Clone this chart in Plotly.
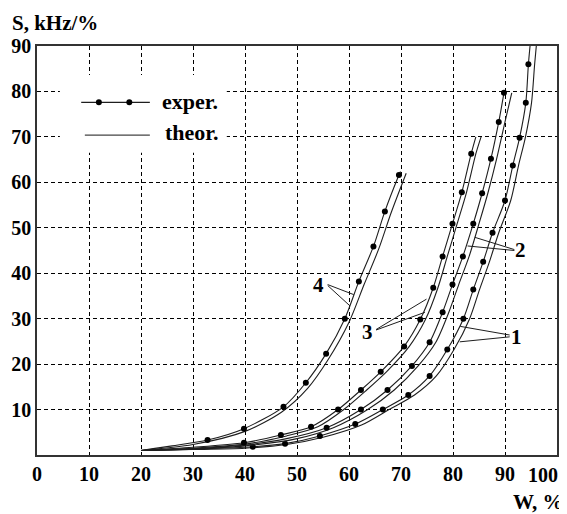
import plotly.graph_objects as go

# ---------------- data ----------------
# curve 4
G4_DOT_W = [32.8, 39.8, 47.4, 51.7, 55.6, 59.2, 61.9, 64.7, 66.9, 69.6]
G4_DOT_S = [3.3, 5.8, 10.6, 15.9, 22.3, 30.0, 38.2, 45.9, 53.6, 61.6]
G4_EXP_W = [20.0, 26.0, 32.8, 39.8, 47.4, 51.7, 55.6, 59.2, 61.9, 64.7, 66.9, 69.6, 69.9]
G4_EXP_S = [1.0, 2.0, 3.3, 5.8, 10.6, 15.9, 22.3, 30.0, 38.2, 45.9, 53.6, 61.6, 62.4]
G4_TH_W = [20.0, 30.0, 40.0, 47.0, 52.0, 56.0, 60.0, 62.9, 65.7, 68.1, 71.0]
G4_TH_S = [1.0, 2.3, 5.2, 9.4, 14.6, 21.0, 29.2, 37.5, 45.3, 53.3, 62.0]

# curve 3
G3_DOT_W = [39.8, 46.9, 52.7, 57.9, 62.3, 66.1, 70.6, 73.7, 76.2, 78.0, 79.9, 81.7, 83.5]
G3_DOT_S = [2.7, 4.4, 6.2, 10.0, 14.3, 18.3, 23.9, 29.8, 36.8, 43.7, 50.9, 57.8, 66.3]
G3_EXP_W = [20.0, 30.0, 39.8, 46.9, 52.7, 57.9, 62.3, 66.1, 70.6, 73.7, 76.2, 78.0, 79.9, 81.7, 83.5, 84.4]
G3_EXP_S = [1.0, 1.7, 2.7, 4.4, 6.2, 10.0, 14.3, 18.3, 23.9, 29.8, 36.8, 43.7, 50.9, 57.8, 66.3, 70.0]
G3_TH_W = [20.0, 30.0, 40.0, 48.0, 54.0, 59.0, 63.4, 67.2, 71.6, 74.7, 77.1, 78.9, 80.8, 82.6, 84.4, 85.4]
G3_TH_S = [1.0, 1.5, 2.4, 4.2, 6.2, 10.0, 14.3, 18.3, 23.9, 29.8, 36.8, 43.7, 50.9, 57.8, 66.3, 70.0]

# curve 2
G2_DOT_W = [55.7, 62.3, 67.4, 72.1, 75.5, 78.0, 79.9, 81.9, 83.9, 85.6, 87.3, 88.8, 89.8]
G2_DOT_S = [6.0, 10.0, 14.3, 19.6, 24.8, 31.4, 37.5, 43.7, 50.9, 57.6, 65.2, 73.3, 79.7]
G2_EXP_W = [20.0, 30.0, 40.0, 48.0, 55.7, 62.3, 67.4, 72.1, 75.5, 78.0, 79.9, 81.9, 83.9, 85.6, 87.3, 88.8, 89.8]
G2_EXP_S = [1.0, 1.4, 2.2, 3.6, 6.0, 10.0, 14.3, 19.6, 24.8, 31.4, 37.5, 43.7, 50.9, 57.6, 65.2, 73.3, 79.7]
G2_TH_W = [20.0, 30.0, 40.0, 50.0, 57.0, 63.6, 68.7, 73.3, 76.7, 79.2, 81.1, 83.1, 85.0, 86.7, 88.4, 90.0, 91.3]
G2_TH_S = [1.0, 1.3, 2.0, 3.6, 6.0, 10.0, 14.3, 19.6, 24.8, 31.4, 37.5, 43.7, 50.9, 57.6, 65.2, 73.3, 79.7]

# curve 1
G1_DOT_W = [41.5, 47.7, 54.4, 61.2, 66.5, 71.4, 75.5, 78.9, 82.0, 83.9, 85.8, 87.6, 90.0, 91.5, 92.8, 94.0, 94.5]
G1_DOT_S = [1.8, 2.5, 4.2, 6.8, 10.0, 13.2, 17.4, 23.2, 30.0, 36.4, 42.5, 48.9, 56.0, 63.7, 69.8, 77.5, 86.0]
G1_EXP_W = [20.0, 30.0, 41.5, 47.7, 54.4, 61.2, 66.5, 71.4, 75.5, 78.9, 82.0, 83.9, 85.8, 87.6, 90.0, 91.5, 92.8, 94.0, 94.5, 94.9]
G1_EXP_S = [1.0, 1.3, 1.8, 2.5, 4.2, 6.8, 10.0, 13.2, 17.4, 23.2, 30.0, 36.4, 42.5, 48.9, 56.0, 63.7, 69.8, 77.5, 86.0, 91.0]
G1_TH_W = [20.0, 30.0, 40.0, 48.0, 55.0, 62.4, 67.7, 72.6, 76.8, 80.2, 83.2, 85.1, 87.0, 88.8, 91.1, 92.6, 93.9, 95.1, 95.7, 96.1]
G1_TH_S = [1.0, 1.2, 1.5, 2.3, 3.9, 6.6, 10.0, 13.2, 17.4, 23.2, 30.0, 36.4, 42.5, 48.9, 56.0, 63.7, 69.8, 77.5, 86.0, 91.0]

X_TICKS = [0, 10, 20, 30, 40, 50, 60, 70, 80, 90]
Y_TICKS = [10, 20, 30, 40, 50, 60, 70, 80, 90]

CURVE_LABELS = ["1", "2", "3", "4"]

# ---------------- styling ----------------
FONT = "Liberation Serif"
LINE_C = "#1e1e1e"
LW = 1.1

fig = go.Figure()

groups = [
    (G1_EXP_W, G1_EXP_S, G1_TH_W, G1_TH_S, G1_DOT_W, G1_DOT_S),
    (G2_EXP_W, G2_EXP_S, G2_TH_W, G2_TH_S, G2_DOT_W, G2_DOT_S),
    (G3_EXP_W, G3_EXP_S, G3_TH_W, G3_TH_S, G3_DOT_W, G3_DOT_S),
    (G4_EXP_W, G4_EXP_S, G4_TH_W, G4_TH_S, G4_DOT_W, G4_DOT_S),
]
for ew, es, tw, ts, dw, ds in groups:
    fig.add_trace(go.Scatter(x=tw, y=ts, mode="lines",
                             line=dict(color=LINE_C, width=LW, shape="spline", smoothing=0.8),
                             showlegend=False, hoverinfo="skip"))
    fig.add_trace(go.Scatter(x=ew, y=es, mode="lines",
                             line=dict(color=LINE_C, width=LW, shape="spline", smoothing=0.8),
                             showlegend=False, hoverinfo="skip"))
    fig.add_trace(go.Scatter(x=dw, y=ds, mode="markers",
                             marker=dict(color="black", size=6),
                             showlegend=False, hoverinfo="skip"))

shapes = []
annotations = []

# legend (white box hiding the grid, sample lines, dots)
shapes.append(dict(type="rect", xref="x", yref="y", x0=4.4, x1=36.5, y0=66.5, y1=83.6,
                   fillcolor="white", line=dict(width=0), layer="between"))
shapes.append(dict(type="line", xref="x", yref="y", x0=8.5, x1=21.7, y0=77.6, y1=77.6,
                   line=dict(color=LINE_C, width=1.3), layer="above"))
shapes.append(dict(type="line", xref="x", yref="y", x0=9.2, x1=21.7, y0=70.4, y1=70.4,
                   line=dict(color="#444", width=1.3), layer="above"))
for cx in (11.9, 17.75):
    shapes.append(dict(type="circle", xref="x", yref="y", xsizemode="pixel", ysizemode="pixel",
                       xanchor=cx, yanchor=77.6, x0=-3, x1=3, y0=-3, y1=3,
                       fillcolor="black", line=dict(width=0), layer="above"))
annotations.append(dict(text="<b>exper.</b>", x=23.6, y=77.8, xref="x", yref="y",
                        xanchor="left", yanchor="middle", showarrow=False,
                        font=dict(family=FONT, size=22, color="black")))
annotations.append(dict(text="<b>theor.</b>", x=24.2, y=70.9, xref="x", yref="y",
                        xanchor="left", yanchor="middle", showarrow=False,
                        font=dict(family=FONT, size=22, color="black")))

# curve labels with pointer lines
label_pos = {"1": (92.3, 26.0), "2": (93.0, 45.1), "3": (63.5, 27.1), "4": (54.2, 37.4)}
pointers = {
    "1": [((90.9, 26.4), (81.4, 28.3)), ((90.9, 26.0), (81.3, 24.9))],
    "2": [((91.8, 45.2), (84.2, 47.9)), ((91.8, 45.0), (82.8, 46.0))],
    "3": [((65.2, 27.6), (74.9, 34.3)), ((65.2, 27.5), (74.6, 31.4))],
    "4": [((55.9, 37.5), (60.9, 35.3)), ((55.9, 37.3), (60.2, 32.8))],
}
for lab in CURVE_LABELS:
    x, y = label_pos[lab]
    annotations.append(dict(text="<b>%s</b>" % lab, x=x, y=y, xref="x", yref="y",
                            xanchor="center", yanchor="middle", showarrow=False,
                            font=dict(family=FONT, size=21, color="black")))
    for (x0, y0), (x1, y1) in pointers[lab]:
        shapes.append(dict(type="line", xref="x", yref="y", x0=x0, y0=y0, x1=x1, y1=y1,
                           line=dict(color=LINE_C, width=1), layer="above"))

# axis titles
annotations.append(dict(text="<b>S, kHz/%</b>", x=-0.052, y=1.057, xref="paper", yref="paper",
                        xanchor="left", yanchor="middle", showarrow=False,
                        font=dict(family=FONT, size=21, color="black")))
annotations.append(dict(text="<b>W, %</b>", x=1.017, y=-0.115, xref="paper", yref="paper",
                        xanchor="right", yanchor="middle", showarrow=False,
                        font=dict(family=FONT, size=21, color="black")))
# the last x label sits left of its grid position in the reference
annotations.append(dict(text="<b>100</b>", x=100, y=0, xref="x", yref="y",
                        xanchor="center", yanchor="top", xshift=-14, yshift=-7,
                        showarrow=False,
                        font=dict(family=FONT, size=20, color="black")))

axis_common = dict(
    showgrid=True, gridcolor="black", gridwidth=1, griddash="4px,3px",
    showline=True, linecolor="#333", linewidth=1.5, mirror=True,
    zeroline=False, ticks="", automargin=False,
    tickfont=dict(family=FONT, size=20, color="black", weight="bold"),
)

# the page body adds an 8 px offset, so the margins are shifted to compensate
fig.update_layout(
    width=567, height=514,
    margin=dict(l=29, r=18, t=38, b=67),
    paper_bgcolor="white", plot_bgcolor="white",
    xaxis=dict(range=[0, 100], tickvals=X_TICKS, ticklabelstandoff=0, **axis_common),
    yaxis=dict(range=[0, 90], tickvals=Y_TICKS, ticklabelstandoff=0, **axis_common),
    shapes=shapes, annotations=annotations,
)

fig.write_html("out.html")
